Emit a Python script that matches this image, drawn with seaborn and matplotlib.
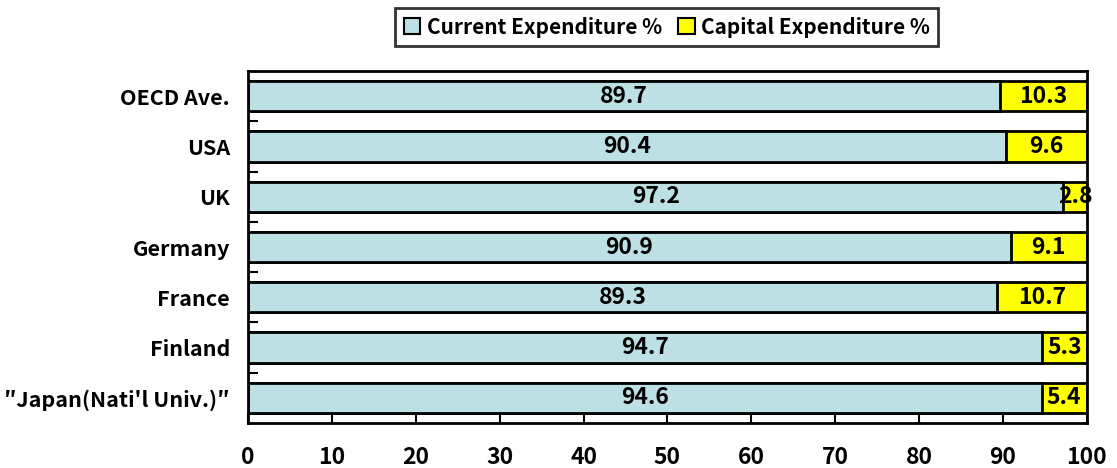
import matplotlib
matplotlib.use("Agg")
import matplotlib.pyplot as plt
import seaborn as sns
import pandas as pd
from matplotlib.ticker import FixedLocator
from matplotlib.patches import Patch

categories = ["OECD Ave.", "USA", "UK", "Germany", "France", "Finland", "\u2033Japan(Nati'l Univ.)\u2033"]
current = [89.7, 90.4, 97.2, 90.9, 89.3, 94.7, 94.6]
capital = [10.3, 9.6, 2.8, 9.1, 10.7, 5.3, 5.4]
xticks = [0, 10, 20, 30, 40, 50, 60, 70, 80, 90, 100]

sns.set_theme(style="white")
plt.rcParams['font.family'] = ['Noto Sans CJK JP', 'DejaVu Sans']
plt.rcParams['font.weight'] = 'bold'
for k in ['text.color', 'xtick.color', 'ytick.color', 'axes.labelcolor']:
    plt.rcParams[k] = 'black'

df = pd.DataFrame({"cat": categories, "current": current, "capital": capital})
df["total"] = df["current"] + df["capital"]

blue = "#BCE0E3"
yellow = "#FFFF00"

fig = plt.figure(figsize=(11.17, 4.68), dpi=100)
ax = fig.add_axes([0.222, 0.0962, 0.751, 0.752])

sns.barplot(data=df, x="total", y="cat", orient="h", color=yellow, saturation=1,
            width=0.6, edgecolor="black", linewidth=2, ax=ax)
sns.barplot(data=df, x="current", y="cat", orient="h", color=blue, saturation=1,
            width=0.6, edgecolor="black", linewidth=2, ax=ax)

bfs = 16.5
for i, (c, k) in enumerate(zip(current, capital)):
    ax.text(c / 2, i, f"{c:.1f}", ha="center", va="center", fontsize=bfs, fontweight="bold", color="black")
    ax.text(c + k / 2, i, f"{k:.1f}", ha="center", va="center", fontsize=bfs, fontweight="bold", color="black")

ax.set_xlim(0, 100)
ax.set_ylim(6.5, -0.5)
ax.set_xticks(xticks)
ax.set_xticklabels([str(t) for t in xticks], fontsize=16.5, fontweight="bold")
ax.set_yticks(range(len(categories)))
ax.set_yticklabels(categories, fontsize=15.5, fontweight="bold")
ax.yaxis.set_minor_locator(FixedLocator([i + 0.5 for i in range(len(categories) - 1)]))
ax.tick_params(axis="y", which="major", length=0, pad=13)
ax.tick_params(axis="y", which="minor", direction="in", length=7, width=1.5, left=True, color="black")
ax.tick_params(axis="x", which="major", direction="in", length=7, width=1.5, bottom=True, pad=16.5, color="black")
ax.set_xlabel("")
ax.set_ylabel("")
for s in ax.spines.values():
    s.set_visible(True)
    s.set_color("black")
    s.set_linewidth(2)

handles = [Patch(facecolor=blue, edgecolor="black", linewidth=1.5, label="Current Expenditure %"),
           Patch(facecolor=yellow, edgecolor="black", linewidth=1.5, label="Capital Expenditure %")]
leg = fig.legend(handles=handles, loc="center", bbox_to_anchor=(0.597, 0.942), ncol=2,
                 frameon=True, fancybox=False, edgecolor="black",
                 handlelength=0.8, handleheight=0.8, handletextpad=0.3, columnspacing=0.8,
                 borderpad=0.4, prop={"size": 15, "weight": "bold"})
leg.get_frame().set_linewidth(2)
for t in leg.get_texts():
    t.set_color("black")

fig.savefig("out.png", dpi=100)
